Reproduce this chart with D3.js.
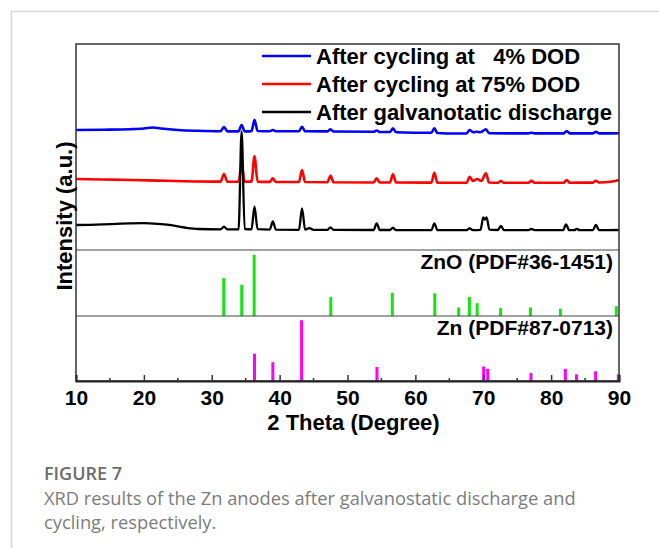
<!DOCTYPE html>
<html>
<head>
<meta charset="utf-8">
<script src="https://cdn.jsdelivr.net/npm/d3@7"></script>
<style>
  body { margin: 0; background: #fff; }
  svg { display: block; }
</style>
</head>
<body>
<svg id="chart" width="659" height="548"></svg>
<script>
// measured XRD patterns, [2theta, intensity (a.u., stacked)]
const after_discharge = [
  [10, 250], [12, 252], [14, 256], [16, 262], [18, 267], [20, 268], [22, 262], [24, 248], [26, 225], [28, 210],
  [31.3, 207], [31.8, 233], [32.3, 206], [33.95, 206], [34.4, 1185], [34.85, 210], [35.85, 206], [36.3, 433], [36.75, 208],
  [38.55, 204], [39.0, 285], [39.45, 204], [42.85, 202], [43.3, 417], [43.75, 204], [44.4, 218], [45, 202],
  [47.05, 202], [47.5, 227], [47.95, 201], [53.85, 200], [54.3, 267], [54.75, 200], [56.25, 200], [56.7, 223], [57.15, 199],
  [62.35, 198], [62.8, 267], [63.25, 198], [67.55, 199], [68.0, 217], [68.45, 199], [69.6, 202], [70.0, 327], [70.25, 305],
  [70.5, 327], [70.9, 204], [72.15, 200], [72.6, 240], [73.05, 199], [76.65, 198], [77.1, 210], [77.55, 198],
  [81.75, 198], [82.2, 257], [82.65, 198], [83.4, 199], [83.8, 212], [84.2, 199], [86.15, 199], [86.6, 250], [87.05, 199], [90, 200],
];
const cycling_75 = [
  [10, 710], [14, 705], [18, 700], [22, 694], [26, 688], [31.3, 684], [31.8, 760], [32.3, 683], [33.95, 683], [34.4, 857],
  [34.85, 684], [35.85, 684], [36.3, 937], [36.75, 684], [38.55, 681], [39.0, 717], [39.45, 680], [42.85, 680], [43.3, 800],
  [43.75, 680], [47.05, 678], [47.5, 743], [47.95, 677], [53.85, 675], [54.3, 717], [54.75, 675], [56.25, 675], [56.7, 757],
  [57.15, 675], [62.35, 674], [62.8, 773], [63.25, 673], [67.55, 673], [68.0, 733], [68.5, 690], [69.1, 710], [69.7, 690],
  [70.4, 767], [70.85, 675], [72.15, 672], [72.6, 690], [73.05, 672], [76.65, 672], [77.1, 693], [77.55, 672],
  [81.85, 673], [82.3, 700], [82.75, 673], [86.15, 674], [86.6, 693], [87.05, 675], [89, 685], [90, 700],
];
const cycling_4 = [
  [10, 1200], [14, 1203], [18, 1208], [20, 1215], [21.3, 1225], [22.5, 1215], [25, 1200], [28, 1192], [31.3, 1188],
  [31.8, 1230], [32.3, 1186], [33.95, 1186], [34.4, 1250], [34.85, 1186], [35.85, 1188], [36.3, 1303], [36.75, 1190],
  [38.55, 1188], [39.0, 1200], [39.45, 1188], [42.85, 1188], [43.3, 1233], [43.75, 1188], [47.05, 1186], [47.5, 1207],
  [47.95, 1185], [53.85, 1182], [54.3, 1195], [54.75, 1180], [56.25, 1180], [56.7, 1217], [57.15, 1178], [62.35, 1172],
  [62.8, 1217], [63.25, 1170], [66, 1165], [67.55, 1166], [68.0, 1200], [68.5, 1178], [69.0, 1183], [69.6, 1178],
  [70.4, 1207], [70.85, 1168], [76.65, 1166], [77.1, 1172], [77.55, 1166], [81.85, 1166], [82.3, 1190], [82.75, 1166],
  [86.15, 1166], [86.6, 1183], [87.05, 1166], [90, 1167],
];

// reference cards, [2theta, relative intensity]
const zno_sticks = [
  [31.77, 62], [34.42, 51], [36.25, 100], [47.54, 31], [56.6, 38], [62.86, 37], [66.38, 14], [67.96, 31],
  [69.1, 21], [72.56, 13], [76.95, 14], [81.37, 12], [89.6, 16],
];
const zn_sticks = [
  [36.3, 45], [39.0, 31], [43.23, 100], [54.34, 23], [70.06, 24], [70.66, 20], [77.03, 13], [82.1, 20],
  [83.75, 11], [86.55, 16], [89.9, 11],
];

const legend_labels = ["After cycling at   4% DOD", "After cycling at 75% DOD", "After galvanotatic discharge"];
const legend_colors = ["#0000ff", "#ff0000", "#000000"];
const x_ticks = [10, 20, 30, 40, 50, 60, 70, 80, 90];
const x_minor_ticks = [15, 25, 35, 45, 55, 65, 75, 85];

const font = "Arial, 'Liberation Sans', sans-serif";
const plot_left = 76, plot_right = 619, plot_top = 44, split_1 = 250, split_2 = 316, plot_bottom = 381;

const svg = d3.select("#chart");

// card border
svg.append("path")
  .attr("d", `M11.5,548 V11.5 H659`)
  .attr("fill", "none")
  .attr("stroke", "#d4d4d4")
  .attr("stroke-width", 1.5);

const x = d3.scaleLinear().domain([10, 90]).range([plot_left, plot_right]);
const y_top = d3.scaleLinear().domain([0, 2060]).range([split_1, plot_top]);
const y_zno = d3.scaleLinear().domain([0, 108]).range([split_2, split_1]);
const y_zn = d3.scaleLinear().domain([0, 107]).range([plot_bottom, split_2]);

const line = d3.line()
  .x((d) => x(d[0]))
  .y((d) => y_top(d[1]))
  .curve(d3.curveMonotoneX);

const plot = svg.append("g");

[cycling_4, cycling_75, after_discharge].forEach((s, i) => {
  plot.append("path")
    .datum(s)
    .attr("d", line)
    .attr("fill", "none")
    .attr("stroke", legend_colors[i])
    .attr("stroke-width", i === 2 ? 2.3 : 2.6)
    .attr("stroke-linejoin", "round");
});

plot.append("g")
  .selectAll("line")
  .data(zno_sticks)
  .join("line")
  .attr("x1", (d) => x(d[0]))
  .attr("x2", (d) => x(d[0]))
  .attr("y1", y_zno(0))
  .attr("y2", (d) => y_zno(d[1]))
  .attr("stroke", "#11e611")
  .attr("stroke-width", 3);

plot.append("g")
  .selectAll("line")
  .data(zn_sticks)
  .join("line")
  .attr("x1", (d) => x(d[0]))
  .attr("x2", (d) => x(d[0]))
  .attr("y1", y_zn(0))
  .attr("y2", (d) => y_zn(d[1]))
  .attr("stroke", "#ff00ff")
  .attr("stroke-width", 3);

// panel dividers
[split_1, split_2].forEach((yy) => {
  svg.append("line")
    .attr("x1", plot_left).attr("x2", plot_right)
    .attr("y1", yy).attr("y2", yy)
    .attr("stroke", "#444")
    .attr("stroke-width", 1.2);
});

// frame
svg.append("rect")
  .attr("x", plot_left).attr("y", plot_top)
  .attr("width", plot_right - plot_left).attr("height", plot_bottom - plot_top)
  .attr("fill", "none")
  .attr("stroke", "#333")
  .attr("stroke-width", 1.5);

// x axis, ticks pointing inside
const x_axis = svg.append("g")
  .attr("transform", `translate(0,${plot_bottom})`)
  .call(d3.axisBottom(x).tickValues(x_ticks).tickSize(-6).tickPadding(9).tickFormat(d3.format("d")));
x_axis.select(".domain").attr("stroke", "#222").attr("stroke-width", 2);
x_axis.selectAll(".tick line").attr("stroke", "#333").attr("stroke-width", 1.5);
x_axis.selectAll("text")
  .attr("font-family", font)
  .attr("font-weight", "bold")
  .attr("font-size", 21)
  .attr("fill", "#000");

svg.append("g")
  .selectAll("line")
  .data(x_minor_ticks)
  .join("line")
  .attr("x1", (d) => x(d)).attr("x2", (d) => x(d))
  .attr("y1", plot_bottom).attr("y2", plot_bottom - 3)
  .attr("stroke", "#333")
  .attr("stroke-width", 1.5);

svg.append("text")
  .attr("x", (plot_left + plot_right) / 2 + 6)
  .attr("y", 430)
  .attr("text-anchor", "middle")
  .attr("font-family", font)
  .attr("font-weight", "bold")
  .attr("font-size", 22)
  .text("2 Theta (Degree)");

svg.append("text")
  .attr("transform", "translate(64,216) rotate(-90)")
  .attr("text-anchor", "middle")
  .attr("dominant-baseline", "central")
  .attr("font-family", font)
  .attr("font-weight", "bold")
  .attr("font-size", 22)
  .text("Intensity (a.u.)");

// legend
const legend = svg.append("g")
  .selectAll("g")
  .data(legend_labels)
  .join("g")
  .attr("transform", (d, i) => `translate(262,${56 + i * 28})`);
legend.append("line")
  .attr("x1", 0).attr("x2", 49)
  .attr("stroke", (d, i) => legend_colors[i])
  .attr("stroke-width", 2.5);
legend.append("text")
  .attr("x", 54)
  .attr("y", 8)
  .attr("font-family", font)
  .attr("font-weight", "bold")
  .attr("font-size", 22)
  .style("white-space", "pre")
  .text((d) => d);

// reference card labels
[["ZnO (PDF#36-1451)", 269], ["Zn (PDF#87-0713)", 335]].forEach(([t, yy]) => {
  svg.append("text")
    .attr("x", 613)
    .attr("y", yy)
    .attr("text-anchor", "end")
    .attr("font-family", font)
    .attr("font-weight", "bold")
    .attr("font-size", 21)
    .text(t);
});

// caption
const caption = svg.append("g").attr("font-family", "'Open Sans', 'Noto Sans', sans-serif");
caption.append("text")
  .attr("x", 44).attr("y", 480)
  .attr("font-size", 18)
  .attr("font-weight", 600)
  .attr("fill", "#6b6b6b")
  .text("FIGURE 7");
caption.append("text")
  .attr("x", 44).attr("y", 505)
  .attr("font-size", 18.3)
  .attr("fill", "#7c7c7c")
  .text("XRD results of the Zn anodes after galvanostatic discharge and");
caption.append("text")
  .attr("x", 44).attr("y", 529)
  .attr("font-size", 18.3)
  .attr("fill", "#7c7c7c")
  .text("cycling, respectively.");
</script>
</body>
</html>
